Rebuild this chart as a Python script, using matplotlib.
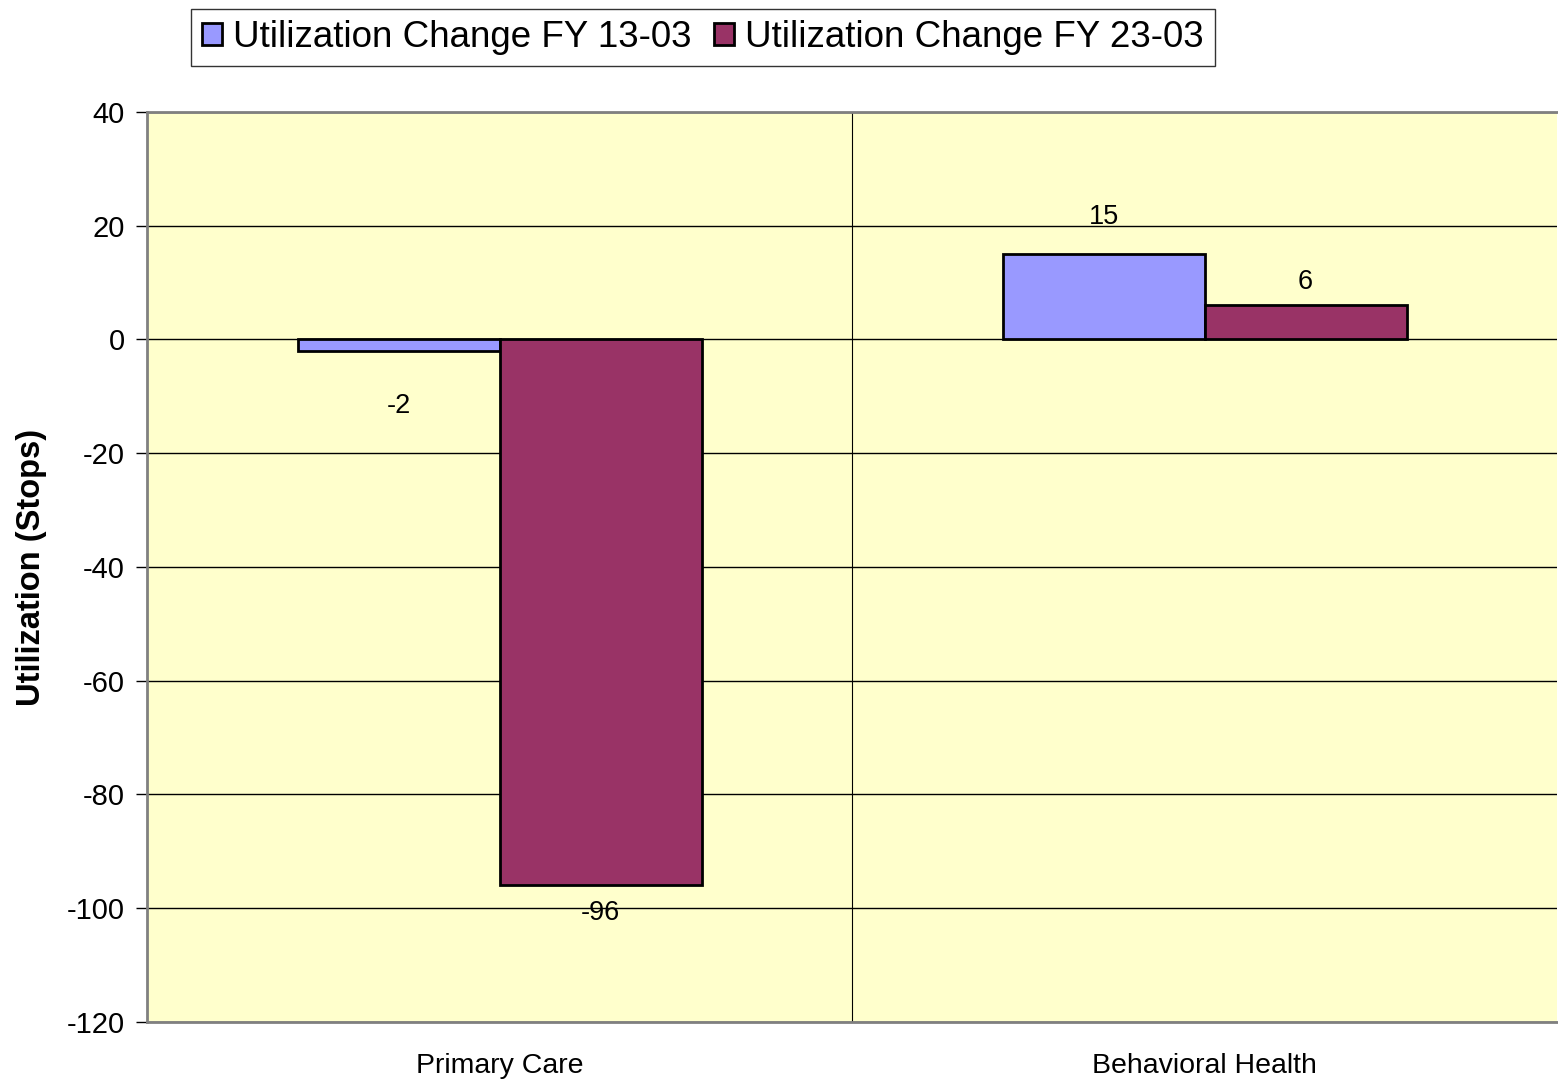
import matplotlib.pyplot as plt
import numpy as np

plt.rcParams['font.family'] = ['Liberation Sans', 'DejaVu Sans']
plt.rcParams['axes.unicode_minus'] = False

categories = ['Primary Care', 'Behavioral Health']
series_names = ['Utilization Change FY 13-03', 'Utilization Change FY 23-03']
change_13_03 = [-2, 15]
change_23_03 = [-96, 6]
yticks = [40, 20, 0, -20, -40, -60, -80, -100, -120]

colors = ['#9999FF', '#993366']
# label offsets in points (as placed in the source chart)
label_offsets = [[-40, 27], [-20, 17]]

fig = plt.figure(figsize=(15.58, 10.85), dpi=100)
ax = fig.add_axes([0.0944, 0.0581, 0.9050, 0.8387])
ax.set_facecolor('#FFFFCC')

x = np.arange(len(categories))
w = 0.2865
series = [change_13_03, change_23_03]
for i, (vals, name) in enumerate(zip(series, series_names)):
    pos = x + (i - 0.5) * w
    ax.bar(pos, vals, width=w, color=colors[i], edgecolor='black',
           linewidth=2, label=name, zorder=3)
    for j, (p, v) in enumerate(zip(pos, vals)):
        ax.annotate(str(v), (p, v), xytext=(0, label_offsets[i][j]),
                    textcoords='offset points', ha='center', va='center',
                    fontsize=19.5)

ax.set_xlim(-0.5, 1.5)
ax.set_ylim(-120, 40)
ax.set_yticks(yticks)
ax.yaxis.grid(True, color='black', linewidth=1, zorder=1)
ax.axvline(0.5, color='black', linewidth=0.8, zorder=1)
ax.set_xticks(x)
ax.set_xticklabels(categories, fontsize=20.5)
ax.tick_params(axis='x', length=0, pad=22)
ax.tick_params(axis='y', length=8, width=1, labelsize=21, pad=8)
ax.set_ylabel('Utilization (Stops)', fontsize=23.5, fontweight='bold', labelpad=14)

for s in ['top', 'left', 'bottom']:
    ax.spines[s].set_color('#808080')
    ax.spines[s].set_linewidth(2)
ax.spines['right'].set_visible(False)

leg = fig.legend(loc='upper left', bbox_to_anchor=(191 / 1558, 1 - 9 / 1085),
                 ncol=2, fontsize=26.5, frameon=True, fancybox=False,
                 handlelength=0.55, handleheight=0.55, handletextpad=0.3,
                 columnspacing=0.6, borderpad=0.3, borderaxespad=0)
leg.get_frame().set_edgecolor('black')
leg.get_frame().set_linewidth(1)

fig.savefig('out.png', dpi=100)
